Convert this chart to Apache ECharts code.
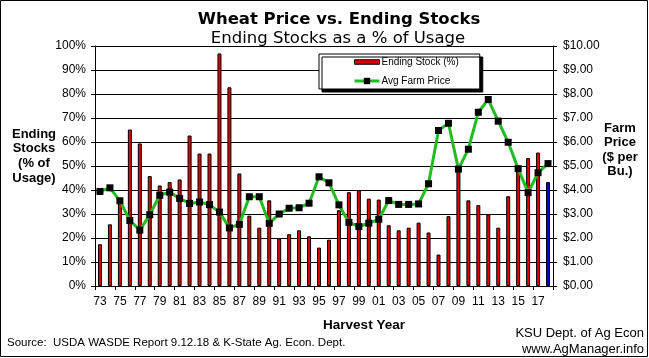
<!DOCTYPE html>
<html>
<head>
<meta charset="utf-8">
<script src="https://cdn.jsdelivr.net/npm/echarts@6/dist/echarts.min.js"></script>
<style>
html,body{margin:0;padding:0;background:#fff;}
#c{width:649px;height:358px;}
</style>
</head>
<body>
<div id="c"></div>
<script>
var years = ['73','74','75','76','77','78','79','80','81','82','83','84','85','86','87','88','89','90','91','92','93','94','95','96','97','98','99','00','01','02','03','04','05','06','07','08','09','10','11','12','13','14','15','16','17','18'];
var endingStocks = [17.4,25.7,35.3,65.2,59.4,45.8,41.9,43.3,44.4,62.7,55.2,55.2,96.9,82.8,46.9,29.3,24.3,35.7,19.9,21.6,23.2,20.7,16.0,19.3,31.6,39.1,39.9,36.4,36.0,25.3,23.2,24.3,26.4,22.3,13.1,29.1,49.7,35.7,33.7,29.9,24.3,37.4,49.6,53.3,55.6,43.3];
var farmPrice = [3.94,4.09,3.55,2.73,2.33,2.97,3.78,3.91,3.65,3.44,3.50,3.39,3.08,2.42,2.57,3.72,3.72,2.61,3.00,3.24,3.26,3.45,4.55,4.30,3.38,2.65,2.48,2.62,2.78,3.56,3.40,3.40,3.42,4.26,6.48,6.78,4.87,5.70,7.24,7.77,6.87,5.99,4.89,3.89,4.72,5.10];
var leftTicks = {min:0, max:100, interval:10};
var rightTicks = {min:0, max:10, interval:1};

var barData = endingStocks.map(function(v, i){
  if (i === endingStocks.length - 1) return {value: v, itemStyle: {color: '#0000dd'}};
  return v;
});

var chart = echarts.init(document.getElementById('c'), null, {renderer:'canvas'});
var small = 'Liberation Sans';
chart.setOption({
  animation: false,
  backgroundColor: '#fff',
  grid: {left: 95, right: 96, top: 46, bottom: 72, containLabel: false},
  legend: {
    orient: 'vertical',
    left: 319, top: 54,
    backgroundColor: '#fff',
    borderColor: '#000', borderWidth: 1, borderRadius: 0,
    padding: [3, 21, 3, 34],
    itemGap: 9,
    itemWidth: 25, itemHeight: 8,
    symbolKeepAspect: true,
    shadowColor: '#000', shadowBlur: 0, shadowOffsetX: 3, shadowOffsetY: 3,
    textStyle: {fontFamily: small, fontSize: 10, color: '#000', padding: [0,0,0,-3]},
    data: [
      {name: 'Ending Stock (%)', icon: 'path://M0,0h25v4.5h-25z', itemStyle: {color: '#e00000', borderColor: '#000', borderWidth: 1}},
      {name: 'Avg Farm Price', lineStyle: {width: 3, color: '#22bb22'}, itemStyle: {color: '#000'}}
    ]
  },
  xAxis: {
    type: 'category',
    data: years,
    boundaryGap: true,
    axisLine: {lineStyle: {color: '#000', width: 1}},
    axisTick: {show: true, interval: 1, length: 4, lineStyle: {color: '#000'}},
    axisLabel: {interval: 1, margin: 10, fontFamily: small, fontSize: 12, color: '#000'},
    splitLine: {show: false}
  },
  yAxis: [
    {
      type: 'value', min: leftTicks.min, max: leftTicks.max, interval: leftTicks.interval,
      position: 'left',
      axisLine: {show: true, lineStyle: {color: '#000'}},
      axisTick: {show: true, length: 4, lineStyle: {color: '#000'}},
      axisLabel: {margin: 9, fontFamily: small, fontSize: 12, color: '#000', formatter: '{value}%'},
      splitLine: {show: true, lineStyle: {color: '#000', width: 1}}
    },
    {
      type: 'value', min: rightTicks.min, max: rightTicks.max, interval: rightTicks.interval,
      position: 'right',
      axisLine: {show: true, lineStyle: {color: '#000'}},
      axisTick: {show: true, length: 4, lineStyle: {color: '#000'}},
      axisLabel: {margin: 10, fontFamily: small, fontSize: 12, color: '#000', formatter: function(v){ return '$' + v.toFixed(2); }},
      splitLine: {show: false}
    }
  ],
  series: [
    {
      name: 'Ending Stock (%)',
      type: 'bar',
      yAxisIndex: 0,
      data: barData,
      barWidth: 4,
      itemStyle: {color: '#e00000', borderColor: '#000', borderWidth: 1},
      z: 2
    },
    {
      name: 'Avg Farm Price',
      type: 'line',
      yAxisIndex: 1,
      data: farmPrice,
      symbol: 'rect',
      symbolSize: 7,
      showAllSymbol: true,
      lineStyle: {color: '#22bb22', width: 3},
      itemStyle: {color: '#000', borderWidth: 0},
      z: 3
    }
  ],
  graphic: [
    {type: 'rect', shape: {x: 0.5, y: 0.5, width: 647, height: 356}, style: {fill: 'none', stroke: '#000', lineWidth: 1}, silent: true, z: 100},
    {type: 'text', x: 339, y: 20, style: {text: 'Wheat Price vs. Ending Stocks', font: 'bold 16.5px "DejaVu Sans"', fill: '#000', textAlign: 'center', textVerticalAlign: 'middle'}},
    {type: 'text', x: 338, y: 39, style: {text: 'Ending Stocks as a % of Usage', font: '16.5px "DejaVu Sans"', fill: '#000', textAlign: 'center', textVerticalAlign: 'middle'}},
    {type: 'text', x: 34, y: 156, style: {text: 'Ending\nStocks\n(% of\nUsage)', font: 'bold 13px "Liberation Sans"', lineHeight: 14.7, fill: '#000', textAlign: 'center', textVerticalAlign: 'middle'}},
    {type: 'text', x: 620, y: 150, style: {text: 'Farm\nPrice\n($ per\nBu.)', font: 'bold 13px "Liberation Sans"', lineHeight: 14.5, fill: '#000', textAlign: 'center', textVerticalAlign: 'middle'}},
    {type: 'text', x: 364, y: 325, style: {text: 'Harvest Year', font: 'bold 13.5px "Liberation Sans"', fill: '#000', textAlign: 'center', textVerticalAlign: 'middle'}},
    {type: 'text', x: 7, y: 343, style: {text: 'Source:  USDA WASDE Report 9.12.18 & K-State Ag. Econ. Dept.', font: '11.5px "Liberation Sans"', fill: '#000', textAlign: 'left', textVerticalAlign: 'middle'}},
    {type: 'text', x: 644, y: 333, style: {text: 'KSU Dept. of Ag Econ', font: '13px "Liberation Sans"', fill: '#000', textAlign: 'right', textVerticalAlign: 'middle'}},
    {type: 'text', x: 644, y: 349, style: {text: 'www.AgManager.info', font: '13px "Liberation Sans"', fill: '#000', textAlign: 'right', textVerticalAlign: 'middle'}}
  ]
});
</script>
</body>
</html>
